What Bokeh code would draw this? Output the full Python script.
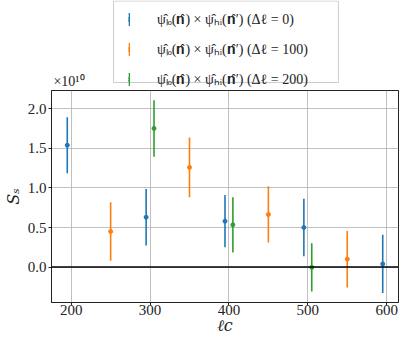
import numpy as np
from bokeh.plotting import figure
from bokeh.layouts import column
from bokeh.models import (FixedTicker, Legend, LegendItem, Label, Span, Range1d,
                          NumeralTickFormatter)
from bokeh.embed import file_html
from bokeh.resources import INLINE

# values of S_s in units of 1e10
lc_blue = [195, 295, 395, 495, 595]
s_blue = [1.54, 0.63, 0.58, 0.50, 0.04]
err_blue = [0.355, 0.357, 0.33, 0.364, 0.368]
lc_orange = [250, 350, 450, 550]
s_orange = [0.45, 1.26, 0.665, 0.10]
err_orange = [0.37, 0.377, 0.355, 0.357]
lc_green = [305, 405, 505]
s_green = [1.753, 0.534, -0.004]
err_green = [0.357, 0.35, 0.305]

labels = ["ψ̂ₗₒ(𝐧̂) × ψ̂ₕᵢ(𝐧̂′) (Δℓ = 0)",
          "ψ̂ₗₒ(𝐧̂) × ψ̂ₕᵢ(𝐧̂′) (Δℓ = 100)",
          "ψ̂ₗₒ(𝐧̂) × ψ̂ₕᵢ(𝐧̂′) (Δℓ = 200)"]
colors = ["#1f77b4", "#ff7f0e", "#2ca02c"]
x_ticks = [200, 300, 400, 500, 600]
y_ticks = [0.0, 0.5, 1.0, 1.5, 2.0]
X_MIN, X_MAX = 175, 615
Y_MIN, Y_MAX = -0.448, 2.232

TICK_FONT = "Liberation Serif"
TEXT_FONT = "DejaVu Serif"

# ---- top strip holding the legend (its frame is aligned with the main frame) ----
top = figure(width=399, height=88, output_backend="svg", toolbar_location=None,
             x_range=Range1d(40, 398), y_range=Range1d(0, 88),
             x_axis_location=None, y_axis_location=None,
             min_border_left=40, min_border_right=1, min_border_top=0, min_border_bottom=0)
top.grid.visible = False
top.outline_line_color = None

# legend frame
top.quad(left=[104], right=[336], bottom=[6], top=[87.5],
         fill_color="white", line_color="#cccccc", line_width=1)

items = []
for c, lab in zip(colors, labels):
    bar = top.vbar(x=[-100], top=[-100], bottom=[-200], width=1, fill_color=c, line_color=None)
    dot = top.scatter(x=[-100], y=[-100], marker="circle", size=1, fill_color=c,
                      line_color=c, line_width=3.5)
    items.append(LegendItem(label=lab, renderers=[bar, dot]))

legend = Legend(items=items, location=(77, 0), orientation="vertical",
                label_text_font=TICK_FONT, label_text_font_size="14px",
                label_text_color="#222222",
                glyph_width=2, glyph_height=16, label_height=16, spacing=11,
                padding=8, label_standoff=27, margin=0,
                border_line_color=None, background_fill_alpha=0.0)
top.add_layout(legend)
top.add_layout(Label(x=42, y=0, text="×10¹⁰",
                     text_font=TICK_FONT, text_font_size="14px", text_baseline="bottom",
                     text_color="#222222"))

# ---- main plot ----
p = figure(width=399, height=249, output_backend="svg", toolbar_location=None,
           x_range=Range1d(X_MIN, X_MAX), y_range=Range1d(Y_MIN, Y_MAX),
           min_border_left=40, min_border_right=1, min_border_top=2, min_border_bottom=0)

series = [(lc_blue, s_blue, err_blue), (lc_orange, s_orange, err_orange), (lc_green, s_green, err_green)]
for (xs, ys, es), c in zip(series, colors):
    xs = np.array(xs, float); ys = np.array(ys, float); es = np.array(es, float)
    p.segment(x0=xs, y0=ys - es, x1=xs, y1=ys + es, line_color=c, line_width=1.6)
    p.scatter(x=xs, y=ys, marker="circle", size=4, fill_color=c, line_color=c)

p.add_layout(Span(location=0, dimension="width", line_color="black", line_width=1.5))

p.xaxis.ticker = FixedTicker(ticks=x_ticks)
p.yaxis.ticker = FixedTicker(ticks=y_ticks)
p.yaxis.formatter = NumeralTickFormatter(format="0.0")
for ax in (p.xaxis, p.yaxis):
    ax.major_label_text_font = TICK_FONT
    ax.major_label_text_font_size = "15px"
    ax.major_label_text_color = "#222222"
    ax.axis_label_text_font = TEXT_FONT
    ax.axis_label_text_font_style = "italic"
    ax.axis_label_text_font_size = "16px"
    ax.axis_label_text_color = "#222222"
    ax.axis_line_color = "#222222"
    ax.major_tick_line_color = "#222222"
    ax.major_tick_out = 3
    ax.major_tick_in = 0
    ax.minor_tick_line_color = None
p.xaxis.major_label_standoff = -1
p.xaxis.axis_label_standoff = -2
p.yaxis.major_label_standoff = 2
p.yaxis.axis_label_standoff = 2
p.xaxis.axis_label = "ℓc"
p.yaxis.axis_label = "Sₛ"

p.xgrid.grid_line_color = "#b0b0b0"
p.ygrid.grid_line_color = "#b0b0b0"
p.xgrid.grid_line_alpha = 0.8
p.ygrid.grid_line_alpha = 0.8
p.outline_line_color = "#222222"
p.outline_line_width = 1

layout = column(top, p, spacing=0)
with open("out.html", "w", encoding="utf-8") as f:
    f.write(file_html(layout, INLINE))
